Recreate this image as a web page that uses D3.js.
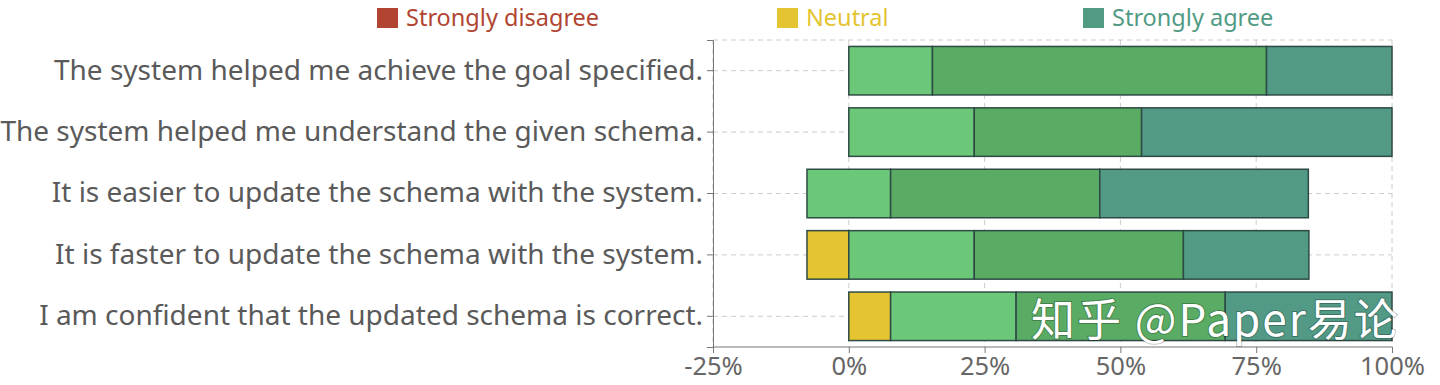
<!DOCTYPE html>
<html>
<head>
  <script src="https://d3js.org/d3.v7.min.js"></script>
  <style>
    body { margin: 0; background: #fff; }
    svg, svg text { font-family: "Noto Sans", "Open Sans", sans-serif; }
    .grid line { stroke: #ccc; stroke-dasharray: 5,4; stroke-width: 1; }
    .axis path, .axis line { stroke: #777; }
    .axis text { fill: #666; font-size: 25.5px; }
    .axis text.cat { fill: #5a5a5a; font-size: 28px; }
    text.mark { fill: #fff; font-size: 44px; letter-spacing: 2px; font-family: "Noto Sans CJK SC", sans-serif; }
  </style>
</head>
<body>
<div id="chart"></div>
<script>
// questions, top to bottom
var questions = [
  "The system helped me achieve the goal specified.",
  "The system helped me understand the given schema.",
  "It is easier to update the schema with the system.",
  "It is faster to update the schema with the system.",
  "I am confident that the updated schema is correct."
];

// where each bar starts (percent)
var starts = [0, 0, -7.7, -7.7, 0];

// segment widths (percent), left to right
var neutral   = [0, 0, 0, 7.7, 7.7];
var somewhat  = [15.4, 23.1, 15.4, 23.1, 23.1];
var agree     = [61.5, 30.8, 38.5, 38.5, 38.5];
var strongly  = [23.1, 46.1, 38.4, 23.1, 30.7];

var xTicks = [-25, 0, 25, 50, 75, 100];

var legendNames = ["Strongly disagree", "Neutral", "Strongly agree"];
var legendColors = ["#b14532", "#e4c431", "#519b85"];

var segColors = ["#e4c431", "#6cc879", "#5aab63", "#529a86"];

var width = 1440, height = 385;
var margin = {left: 713, right: 48, top: 40, bottom: 38};

var svg = d3.select("#chart").append("svg")
  .attr("width", width)
  .attr("height", height);

var x = d3.scaleLinear()
  .domain([-25, 100])
  .range([margin.left, width - margin.right]);

var y = d3.scaleBand()
  .domain(questions)
  .range([margin.top, height - margin.bottom])
  .paddingInner(0.21)
  .paddingOuter(0.105);

/* grid */
var grid = svg.append("g").attr("class", "grid");
grid.selectAll(".v")
  .data(xTicks).enter()
  .append("line")
  .attr("x1", d => x(d)).attr("x2", d => x(d))
  .attr("y1", margin.top).attr("y2", height - margin.bottom);
grid.selectAll(".h")
  .data(questions).enter()
  .append("line")
  .attr("x1", margin.left).attr("x2", x(100))
  .attr("y1", d => y(d) + y.bandwidth() / 2)
  .attr("y2", d => y(d) + y.bandwidth() / 2);
grid.append("line")
  .attr("x1", margin.left).attr("x2", x(100))
  .attr("y1", margin.top).attr("y2", margin.top);

/* stacked segments */
var series = [neutral, somewhat, agree, strongly];
var segs = [];
questions.forEach(function(q, i) {
  var pos = starts[i];
  series.forEach(function(s, k) {
    if (s[i] > 0) {
      segs.push({q: q, x0: pos, x1: pos + s[i], k: k});
      pos += s[i];
    }
  });
});

svg.append("g")
  .selectAll("rect")
  .data(segs).enter()
  .append("rect")
  .attr("x", d => x(d.x0))
  .attr("width", d => x(d.x1) - x(d.x0))
  .attr("y", d => y(d.q))
  .attr("height", y.bandwidth())
  .attr("fill", d => segColors[d.k])
  .attr("stroke", "#2e4a45")
  .attr("stroke-width", 1.5);

/* axes */
svg.append("g")
  .attr("class", "axis")
  .attr("transform", `translate(0, ${height - margin.bottom})`)
  .call(d3.axisBottom(x).tickValues(xTicks).tickFormat(d => d + "%").tickSize(6).tickPadding(4))
  .call(g => g.select(".domain").attr("d", `M${margin.left},0H${x(100)}`))
  .selectAll("text").attr("dy", "0.72em");

var yAxis = svg.append("g")
  .attr("class", "axis")
  .attr("transform", `translate(${margin.left}, 0)`)
  .call(d3.axisLeft(y).tickSize(6).tickPadding(4).tickSizeOuter(6));
yAxis.selectAll("text").attr("class", "cat");

/* legend */
var legendX = [377, 777, 1083];
var legend = svg.append("g");
legendNames.forEach(function(n, i) {
  legend.append("rect")
    .attr("x", legendX[i]).attr("y", 8)
    .attr("width", 21).attr("height", 20)
    .attr("fill", legendColors[i]);
  legend.append("text")
    .attr("x", legendX[i] + 29).attr("y", 26)
    .attr("fill", legendColors[i])
    .style("font-size", "23.5px")
    .text(n);
});

/* watermark */
svg.append("text")
  .attr("class", "mark")
  .attr("x", 1031).attr("y", 336)
  .style("paint-order", "stroke")
  .style("stroke", "rgba(0,0,0,0.25)")
  .style("stroke-width", 2)
  .text("知乎 @Paper易论");
</script>
</body>
</html>
